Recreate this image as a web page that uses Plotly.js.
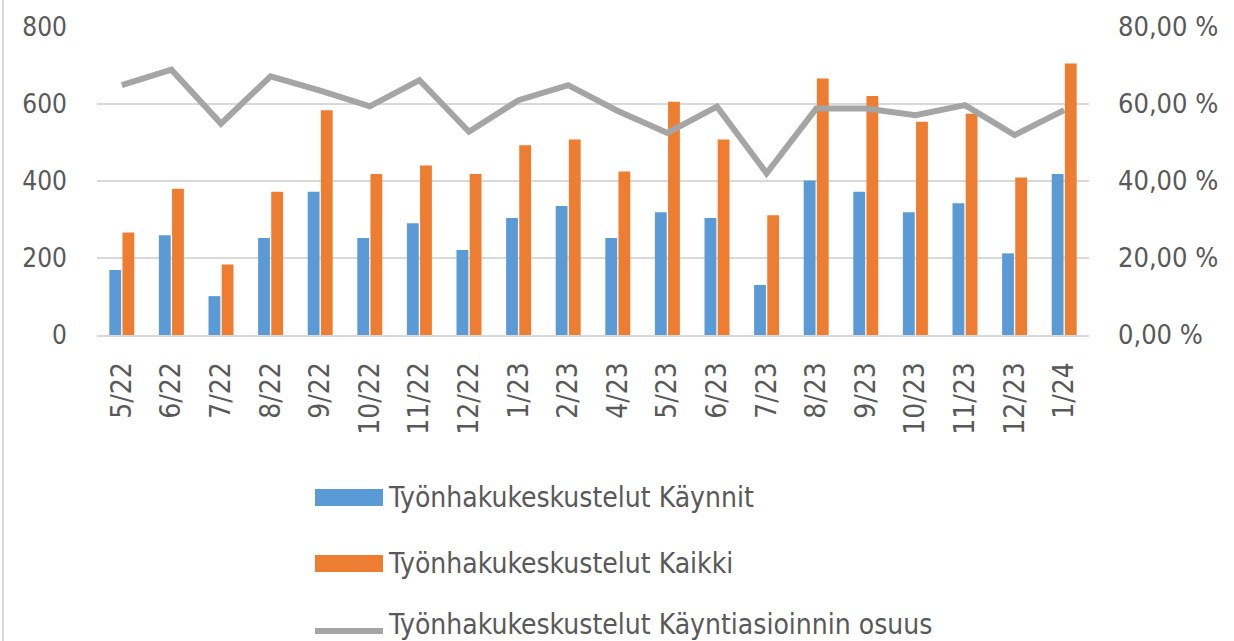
<!DOCTYPE html>
<html><head><meta charset="utf-8">
<script src="https://cdn.plot.ly/plotly-3.0.1.min.js"></script>
<style>html,body{margin:0;padding:0;background:#fff;}#chart{width:1234px;height:641px;}</style>
</head><body><div id="chart"></div>
<script>
const categories = ["5/22","6/22","7/22","8/22","9/22","10/22","11/22","12/22","1/23","2/23","4/23","5/23","6/23","7/23","8/23","9/23","10/23","11/23","12/23","1/24"];
const kaynnit = [169,259,101,252,372,252,290,221,304,335,252,319,304,130,401,372,319,342,212,418];
const kaikki = [266,380,183,372,584,418,440,418,493,508,425,606,508,311,666,621,554,575,409,705];
const osuus = [64.9,68.9,54.9,67.2,63.5,59.4,66.2,52.8,61.0,64.9,58.2,52.5,59.3,42.0,58.8,58.8,57.1,59.7,51.9,58.4];
const leftTicks = [0,200,400,600,800];
const rightTicks = [0,20,40,60,80];
const rightTickText = ["0,00 %","20,00 %","40,00 %","60,00 %","80,00 %"];
const names = ["Työnhakukeskustelut Käynnit","Työnhakukeskustelut Kaikki","Työnhakukeskustelut Käyntiasioinnin osuus"];
const colors = ["#5B9BD5","#ED7D31","#A5A5A5"];

const font = "DejaVu Sans Condensed, sans-serif";
const txt = "#595959";
const traces = [
  {type:"bar", x:categories, y:kaynnit, name:names[0], marker:{color:colors[0]}, yaxis:"y"},
  {type:"bar", x:categories, y:kaikki, name:names[1], marker:{color:colors[1]}, yaxis:"y"},
  {type:"scatter", mode:"lines", x:categories, y:osuus, name:names[2], line:{color:colors[2], width:6}, yaxis:"y2"}
];

const W=1234,H=641,L=97,R=145,T=27,B=306;
const pw=W-L-R, ph=H-T-B;
function px(x){return (x-L)/pw;}
function py(y){return (H-B-y)/ph;}

const shapes=[], annotations=[];
const legY=[497,563,624];
for(let i=0;i<3;i++){
  if(i<2){
    shapes.push({type:"rect", xref:"paper", yref:"paper", x0:px(315), x1:px(383), y0:py(legY[i]+9), y1:py(legY[i]-8), fillcolor:colors[i], line:{width:0}});
  } else {
    shapes.push({type:"line", xref:"paper", yref:"paper", x0:px(315), x1:px(383), y0:py(legY[i]+7), y1:py(legY[i]+7), line:{color:colors[i], width:6}});
  }
  annotations.push({xref:"paper", yref:"paper", x:px(386), y:py(legY[i]), xanchor:"left", yanchor:"middle", showarrow:false, text:names[i], font:{family:font, size:28, color:txt}});
}
shapes.push({type:"line", xref:"paper", yref:"paper", x0:px(3), x1:px(3), y0:py(0), y1:py(641), line:{color:"#d9d9d9", width:2}});

const layout = {
  width:W, height:H,
  margin:{l:L, r:R, t:T, b:B},
  paper_bgcolor:"#fff", plot_bgcolor:"#fff",
  showlegend:false,
  barmode:"group", bargap:0.47, bargroupgap:0.1,
  font:{family:font, size:27, color:txt},
  xaxis:{type:"category", tickangle:-90, showgrid:false, showline:true, linecolor:"#d9d9d9", linewidth:2, ticks:"", tickfont:{family:font, size:28, color:txt}, ticklabelstandoff:14, fixedrange:true},
  yaxis:{range:[0,800], tickvals:leftTicks, showgrid:true, gridcolor:"#d9d9d9", gridwidth:2, zeroline:false, showline:false, ticks:"", tickfont:{family:font, size:26, color:txt}, ticklabelstandoff:29},
  yaxis2:{range:[0,80], overlaying:"y", side:"right", tickmode:"array", tickvals:rightTicks, ticktext:rightTickText, showgrid:false, zeroline:false, showline:false, ticks:"", tickfont:{family:font, size:27, color:txt}, ticklabelstandoff:28},
  shapes:shapes, annotations:annotations
};
Plotly.newPlot("chart", traces, layout, {displayModeBar:false, staticPlot:true});
</script></body></html>
